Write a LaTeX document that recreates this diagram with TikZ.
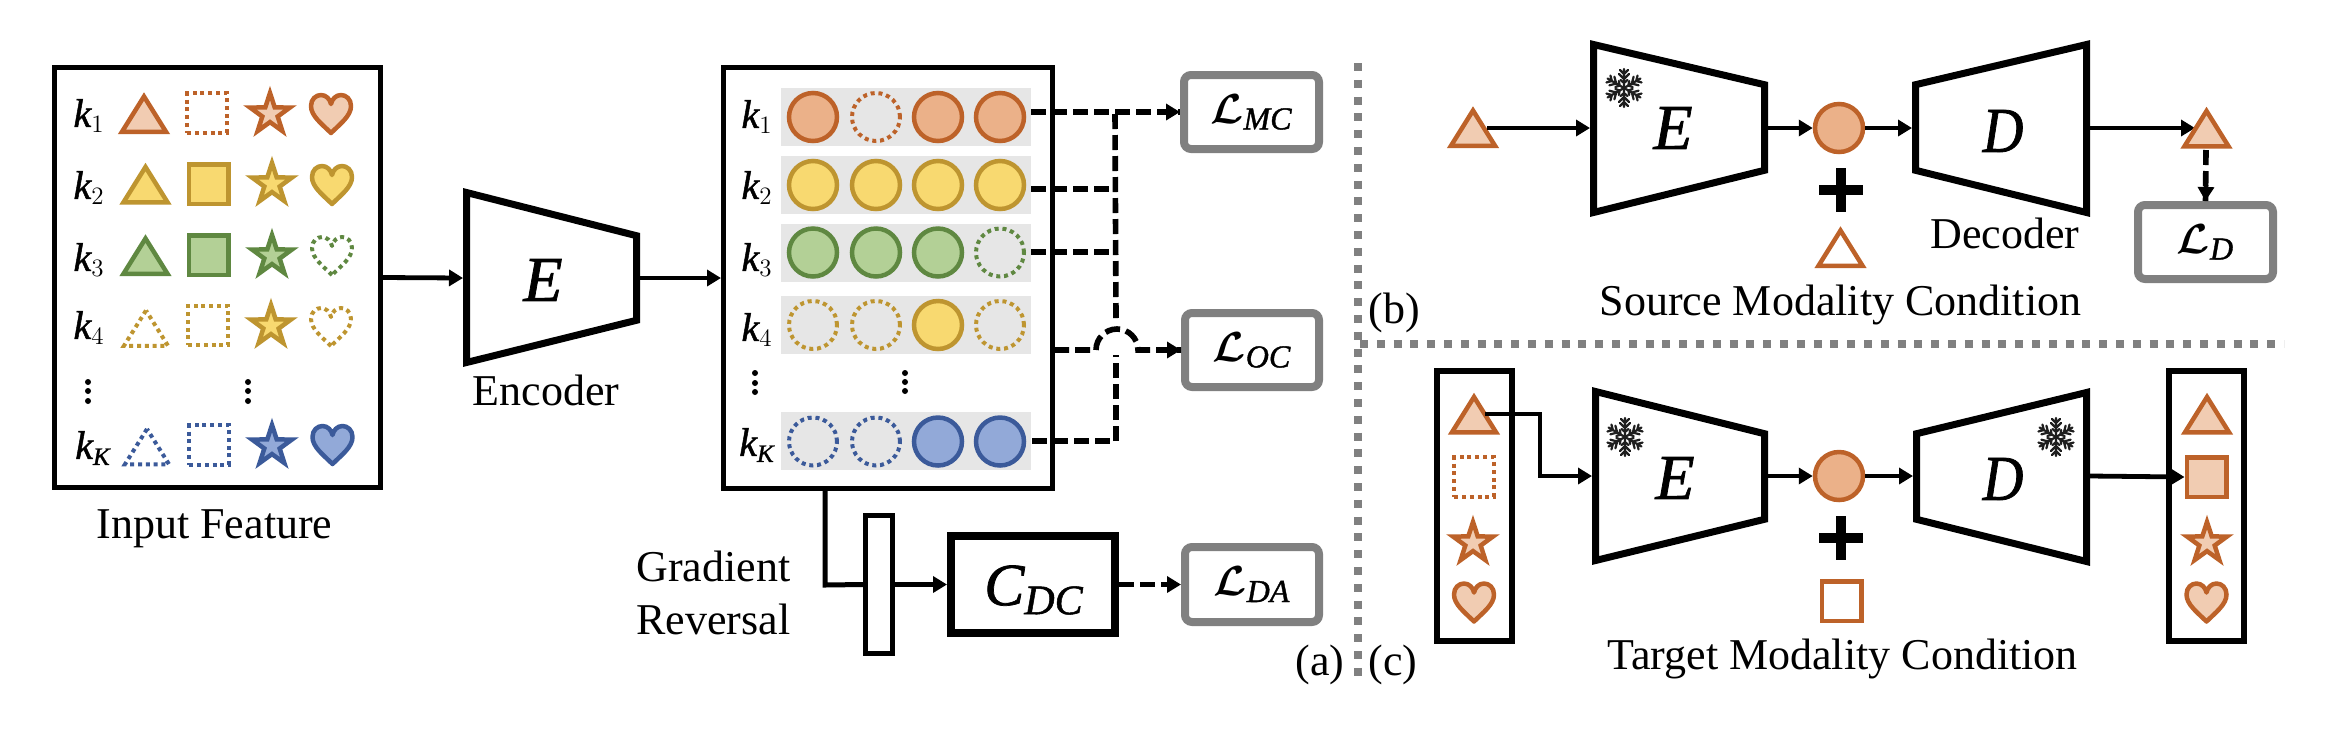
\RequirePackage{fix-cm}
\documentclass[tikz,border=0pt]{standalone}
\usepackage{fontspec}
\setmainfont{Liberation Serif}
\newfontfamily\mifamily[NFSSFamily=mifam,ItalicFeatures={FakeBold=1.2}]{Liberation Serif}
\DeclareMathAlphabet{\mathmi}{TU}{mifam}{m}{it}
\DeclareMathSizes{20}{20}{12.5}{10}
\DeclareMathSizes{21}{21}{16}{12}
\DeclareMathSizes{30}{30}{21}{15}
\usetikzlibrary{arrows.meta,shapes.geometric}
\definecolor{ors}{HTML}{BD6229}
\definecolor{orf}{HTML}{F1CCB2}
\definecolor{orc}{HTML}{EBB189}
\definecolor{yes}{HTML}{BE9530}
\definecolor{yef}{HTML}{F8D970}
\definecolor{grs}{HTML}{5F8841}
\definecolor{grf}{HTML}{B3D096}
\definecolor{bls}{HTML}{3B5A9A}
\definecolor{blf}{HTML}{92A9D8}
\definecolor{rowg}{HTML}{E6E6E6}
\definecolor{lossg}{HTML}{808080}
\newcommand{\lossm}[1]{{\boldmath$\mathcal{L}_{\mathmi{#1}}$}}
\tikzset{
  >={Triangle[length=7pt,width=8pt]},
  txt/.style={font=\fontsize{22}{26.5}\selectfont,inner sep=0pt},
  kl/.style={font=\fontsize{20}{22}\selectfont,inner sep=0pt},
  lossl/.style={font=\fontsize{21}{24}\selectfont,inner sep=0pt},
  netl/.style={font=\fontsize{32}{34}\selectfont,inner sep=0pt},
  bx/.style={draw=black,fill=white,line width=2.5pt,inner sep=0pt,minimum width=#1},
  lossbox/.style={draw=lossg,fill=white,line width=4pt,rounded corners=3.5pt,inner sep=0pt},
  trap/.style={draw=black,fill=white,line width=3.5pt,line join=miter},
  flow/.style={draw=black,line width=2.4pt,->},
  dashf/.style={draw=black,line width=2.8pt,dash pattern=on 7.5pt off 3pt},
  sep/.style={draw=lossg,line width=4pt,dash pattern=on 4pt off 4.4pt},
  ico/.style={line width=2.25pt,line join=miter},
  dotp/.style={line width=2pt,fill=none,dash pattern=on 2pt off 1.9pt},
  os/.style={ico,draw=ors,fill=orf}, od/.style={dotp,draw=ors},
  ys/.style={ico,draw=yes,fill=yef}, yd/.style={dotp,draw=yes},
  gs/.style={ico,draw=grs,fill=grf}, gd/.style={dotp,draw=grs},
  bs/.style={ico,draw=bls,fill=blf}, bd/.style={dotp,draw=bls},
  oc/.style={draw=ors,line width=2.25pt,fill=orc},
  yc/.style={draw=yes,line width=2.25pt,fill=yef},
  gc/.style={draw=grs,line width=2.25pt,fill=grf},
  bc/.style={draw=bls,line width=2.25pt,fill=blf},
  odc/.style={draw=ors,dotp},
  ydc/.style={draw=yes,dotp},
  gdc/.style={draw=grs,dotp},
  bdc/.style={draw=bls,dotp},
  dotmark/.style={circle,fill=black,inner sep=0pt,minimum size=3pt},
  flake/.style={draw=black!88,line width=1.1pt,line cap=round},
}
\newcommand{\icotri}[4]{\draw[#4] (#2,#3-16.5) coordinate (#1) -- (#2-22,#3+18.75) -- (#2+22,#3+18.75) -- cycle;}
\newcommand{\icosq}[4]{\node[#4,inner sep=0pt,minimum size=19.75pt] (#1) at (#2,#3) {};}
\newcommand{\icostar}[4]{\node[#4,shape=star,star points=5,star point ratio=2.6,inner sep=0pt,minimum size=21pt] (#1) at (#2,#3) {};}
\newcommand{\icoheart}[4]{\begin{scope}[shift={(#2,#3)}]\draw[#4,line join=round] (0,19) coordinate (#1) .. controls (-9,10) and (-20,2) .. (-20,-8) .. controls (-20,-15) and (-15,-19) .. (-10,-19) .. controls (-5,-19) and (-1,-15) .. (0,-10) .. controls (1,-15) and (5,-19) .. (10,-19) .. controls (15,-19) and (20,-15) .. (20,-8) .. controls (20,2) and (9,10) .. (0,19) -- cycle;\end{scope}}
\newcommand{\snowflake}[2]{\begin{scope}[shift={(#1,#2)}]\foreach \ang in {30,90,150,210,270,330}{\draw[flake,rotate=\ang] (0,0) -- (19,0) (5,0) -- (8,-3.5) (5,0) -- (8,3.5) (9,0) -- (14,-5) (9,0) -- (14,5) (14,0) -- (18,-4) (14,0) -- (18,4);}\end{scope}}
\begin{document}
\begin{tikzpicture}[x=0.5pt,y=-0.5pt]
\useasboundingbox (0,0) rectangle (2330,730);
% ---------- panel a: boxes
\node[bx=163pt,minimum height=210pt] (inbox) at (217.5,277.5) {};
\node[bx=164.5pt,minimum height=210.5pt] (featbox) at (888,278) {};
% input feature rows
\foreach \n/\y/\lab in {1/116/1,2/188/2,3/260/3,4/328/4}
  \node[kl] (ikl\n) at (89,\y) {$\mathmi{k}_\lab$};
\node[kl] (iklK) at (93,448) {$\mathmi{k}_{\mathmi{K}}$};
\icotri{t1}{144}{113}{os}\icosq{s1}{207}{113}{od}\icostar{a1}{270}{114}{os}\icoheart{h1}{331}{114}{os}
\icotri{t2}{145.5}{183.5}{ys}\icosq{s2}{208.5}{184}{ys}\icostar{a2}{272}{184}{ys}\icoheart{h2}{332}{185}{ys}
\icotri{t3}{145.5}{255}{gs}\icosq{s3}{208.5}{255}{gs}\icostar{a3}{272}{256}{gs}\icoheart{h3}{332}{256}{gd}
\icotri{t4}{146}{327}{yd}\icosq{s4}{208}{325.5}{yd}\icostar{a4}{271}{326}{ys}\icoheart{h4}{331}{327}{yd}
\icotri{tK}{147}{445.5}{bd}\icosq{sK}{209}{445}{bd}\icostar{aK}{272}{446}{bs}\icoheart{hK}{332.5}{445}{bs}
\foreach \n/\x in {l/88,r/248}{
  \node[dotmark] (idA\n) at (\x,382) {};
  \node[dotmark] (idB\n) at (\x,391) {};
  \node[dotmark] (idC\n) at (\x,401) {};
}
\node[txt,anchor=base] (inlabel) at (214.5,538) {Input Feature};
% encoder
\draw[trap] (466.5,192.5) -- (636.5,235.7) -- (636.5,320.3) -- (466.5,362.5) -- cycle;
\coordinate (encin) at (463,278);
\coordinate (encout) at (640,278);
\node[netl] (encE) at (543,280) {$\mathmi{E}$};
\node[txt,anchor=base] (enclabel) at (546,405) {Encoder};
\draw[flow] (inbox.east) -- (encin);
\draw[flow] (encout) -- (featbox.west);
% feature rows
\foreach \n/\y in {1/117,2/185,3/252.5,4/324.5,K/441}
  \fill[rowg] (781,\y-29) rectangle (1031,\y+29);
\foreach \n/\y/\lab in {1/117/1,2/188/2,3/260/3,4/330/4}
  \node[kl] (fkl\n) at (757,\y) {$\mathmi{k}_\lab$};
\node[kl] (fklK) at (757,445) {$\mathmi{k}_{\mathmi{K}}$};
\foreach \r/\y/\a/\b/\c/\d in {1/117/oc/odc/oc/oc,2/185/yc/yc/yc/yc,3/252.5/gc/gc/gc/gdc,4/325/ydc/ydc/yc/ydc,K/441.5/bdc/bdc/bc/bc}{
  \node[circle,inner sep=0pt,minimum size=24pt,\a] (c\r a) at (813,\y) {};
  \node[circle,inner sep=0pt,minimum size=24pt,\b] (c\r b) at (876,\y) {};
  \node[circle,inner sep=0pt,minimum size=24pt,\c] (c\r c) at (938,\y) {};
  \node[circle,inner sep=0pt,minimum size=24pt,\d] (c\r d) at (1000,\y) {};
}
\node[dotmark] (fdAl) at (755,373) {};
\node[dotmark] (fdBl) at (755,383) {};
\node[dotmark] (fdCl) at (755,392) {};
\node[dotmark] (fdAr) at (905,373) {};
\node[dotmark] (fdBr) at (905,382) {};
\node[dotmark] (fdCr) at (905,391) {};
% losses
\node[lossbox,minimum width=67.5pt,minimum height=37pt] (lmc) at (1251.5,112) {};
\node[lossl] (lmct) at (1251.5,112) {\lossm{MC}};
\node[lossbox,minimum width=67pt,minimum height=37pt] (loc) at (1252,350) {};
\node[lossl] (loct) at (1252,350) {\lossm{OC}};
\node[lossbox,minimum width=67pt,minimum height=37.5pt] (lda) at (1252,584.5) {};
\node[lossl] (ldat) at (1252,584.5) {\lossm{DA}};
% dashed connectors
\coordinate (r1) at (1031,112);
\coordinate (r2) at (1031,189);
\coordinate (r3) at (1031,252);
\coordinate (r4) at (1054,350);
\coordinate (rK) at (1032,441);
\coordinate (j1) at (1115,114);
\coordinate (j2) at (1114,189);
\coordinate (j3) at (1114,252);
\coordinate (jtop) at (1116,318);
\coordinate (jbot) at (1116,355);
\coordinate (jK) at (1116,441);
\coordinate (hop) at (1096,350);
\draw[dashf] (r1) -- (lmc.west);
\draw[flow,draw=black] (1165,112) -- (lmc.west);
\draw[dashf] (r2) -- (j2);
\draw[dashf] (r3) -- (j3);
\draw[dashf] (j1) -- (jtop);
\draw[dashf] (rK) -- (jK) -- (jbot);
\draw[dashf] (r4) -- (hop) arc[start angle=180,end angle=0,radius=10.5pt] -- (loc.west);
\draw[flow] (1165,350) -- (loc.west);
% domain classifier
\node[bx=13.5pt,minimum height=69pt] (grl) at (879,584.5) {};
\node[draw=black,fill=white,line width=4pt,inner sep=0pt,minimum width=82pt,minimum height=48.5pt] (cdc) at (1033,584.5) {};
\node[font=\fontsize{30}{32}\selectfont,inner sep=0pt] (cdct) at (1034,590) {$\mathmi{C}_{\mathmi{DC}}$};
\coordinate (fbot) at (825,488);
\coordinate (fcorner) at (825,585);
\draw[draw=black,line width=2.5pt,line join=miter] (fbot) -- (fcorner) -- (grl.west);
\draw[flow] (grl.east) -- (cdc.west);
\draw[dashf] (cdc.east) -- (lda.west);
\draw[flow] (1165,584.5) -- (lda.west);
\node[txt,anchor=west,align=left] (grtxt) at (636,592.5) {Gradient\\Reversal};
% separators
\coordinate (sv1) at (1358,63);
\coordinate (sv2) at (1358,684);
\coordinate (sh1) at (1360,344);
\coordinate (sh2) at (2284,344);
\draw[sep] (sv1) -- (sv2);
\draw[sep] (sh1) -- (sh2);
\node[txt] (plabela) at (1320,665) {(a)};
\node[txt] (plabelb) at (1394,313) {(b)};
\node[txt] (plabelc) at (1393,665) {(c)};
% ---------- panel b
\icotri{bin}{1473}{127}{os}
\draw[trap] (1593.5,44.5) -- (1764.5,84.7) -- (1764.5,170.3) -- (1593.5,212.5) -- cycle;
\coordinate (bein) at (1590,128);
\coordinate (beout) at (1768,128);
\node[netl] (bE) at (1673,128) {$\mathmi{E}$};
\snowflake{1624}{88}
\node[circle,oc,inner sep=0pt,minimum size=24pt] (bz) at (1839,128) {};
\coordinate (binout) at (1487,128);
\draw[flow] (binout) -- (bein);
\draw[flow] (beout) -- (bz.west);
\draw[draw=black,line width=5pt] (1819,190) -- (1863,190) (1841,168) -- (1841,212);
\icotri{bcond}{1840.5}{247}{draw=ors,line width=2.25pt,fill=white,line join=miter}
\draw[trap] (1915.5,84.7) -- (2086.5,44.5) -- (2086.5,212.5) -- (1915.5,170.3) -- cycle;
\coordinate (bdin) at (1912,128);
\coordinate (bdout) at (2090,128);
\node[netl] (bD) at (2003,131) {\scalebox{.88}[1]{$\mathmi{D}$}};
\node[txt,anchor=base] (declabel) at (2005,248) {Decoder};
\draw[flow] (bz.east) -- (bdin);
\coordinate (boutin) at (2195,128);
\draw[flow] (bdout) -- (boutin);
\icotri{bout}{2206.5}{127.5}{os}
\node[lossbox,minimum width=67.5pt,minimum height=37pt] (ld) at (2205.5,242) {};
\node[lossl] (ldt) at (2205.5,242) {\lossm{D}};
\coordinate (bottip) at (2206,150);
\draw[dashf] (bottip) -- (ld.north);
\draw[flow] (2206,185) -- (ld.north);
\node[txt,anchor=base] (srclabel) at (1840.5,315) {Source Modality Condition};
% ---------- panel c
\node[draw=black,fill=white,line width=3pt,inner sep=0pt,minimum width=37.5pt,minimum height=135pt] (lbox) at (1474.5,506) {};
\node[draw=black,fill=white,line width=3pt,inner sep=0pt,minimum width=37.5pt,minimum height=135pt] (rbox) at (2206.5,506) {};
\icotri{lt}{1474}{413.5}{os}\icosq{ls}{1474}{477}{od}\icostar{la}{1473}{543}{os}\icoheart{lh}{1474}{602.5}{os}
\icotri{rt}{2207}{413.5}{os}\icosq{rs}{2206.5}{477}{os}\icostar{ra}{2207}{543}{os}\icoheart{rh}{2206.5}{602.5}{os}
\draw[trap] (1595.5,391.5) -- (1764.5,433.7) -- (1764.5,519.3) -- (1595.5,560.5) -- cycle;
\coordinate (cein) at (1592,476);
\coordinate (ceout) at (1768,476);
\node[netl] (cE) at (1675,478) {$\mathmi{E}$};
\snowflake{1625}{437}
\node[circle,oc,inner sep=0pt,minimum size=24pt] (cz) at (1839,476) {};
\coordinate (ltout) at (1485,414);
\coordinate (ltbend) at (1540,414);
\coordinate (ltdown) at (1540,476);
\draw[flow,line join=miter] (ltout) -- (ltbend) -- (ltdown) -- (cein);
\draw[flow] (ceout) -- (cz.west);
\draw[draw=black,line width=5pt] (1819,538) -- (1863,538) (1841,516) -- (1841,560);
\node[draw=ors,line width=2.25pt,fill=white,inner sep=0pt,minimum size=19.75pt] (csq) at (1841.5,601) {};
\draw[trap] (1916.5,433.7) -- (2086.5,392.5) -- (2086.5,561.5) -- (1916.5,519.3) -- cycle;
\coordinate (cdin) at (1913,476);
\coordinate (cdout) at (2090,476);
\node[netl] (cD) at (2003,479) {\scalebox{.88}[1]{$\mathmi{D}$}};
\snowflake{2056}{437}
\draw[flow] (cz.east) -- (cdin);
\draw[flow] (cdout) -- (rs.west);
\node[txt,anchor=base] (tgtlabel) at (1842.5,669) {Target Modality Condition};
\end{tikzpicture}
\end{document}
